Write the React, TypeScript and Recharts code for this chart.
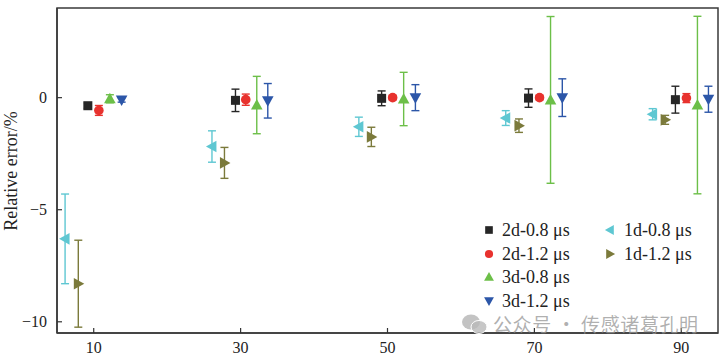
import React from "react";
import {
  ScatterChart,
  Scatter,
  XAxis,
  YAxis,
  ErrorBar,
  ReferenceArea,
} from "recharts";

// x positions (dodged around 10/30/50/70/90), y values and error half-widths
const x2d08 = [9.2, 29.3, 49.2, 69.2, 89.2];
const y2d08 = [-0.36, -0.12, -0.03, -0.02, -0.09];
const e2d08 = [0.12, 0.5, 0.33, 0.41, 0.6];

const x2d12 = [10.7, 30.7, 50.7, 70.7, 90.7];
const y2d12 = [-0.57, -0.09, 0.0, 0.0, -0.02];
const e2d12 = [0.22, 0.25, 0.1, 0.1, 0.2];

const x3d08 = [12.2, 32.2, 52.2, 72.2, 92.2];
const y3d08 = [-0.05, -0.33, -0.06, -0.1, -0.33];
const e3d08 = [0.18, 1.28, 1.19, 3.72, 3.96];

const x3d12 = [13.8, 33.7, 53.8, 73.8, 93.7];
const y3d12 = [-0.1, -0.14, 0.0, 0.0, -0.07];
const e3d12 = [0.1, 0.77, 0.58, 0.84, 0.58];

const x1d08 = [6.1, 26.1, 46.1, 66.1, 86.1];
const y1d08 = [-6.3, -2.18, -1.3, -0.91, -0.74];
const e1d08 = [2.0, 0.7, 0.43, 0.33, 0.25];

const x1d12 = [7.9, 27.8, 47.8, 67.9, 87.8];
const y1d12 = [-8.3, -2.91, -1.75, -1.25, -0.99];
const e1d12 = [1.94, 0.69, 0.43, 0.3, 0.2];

const xTicks = [10, 30, 50, 70, 90];
const yTicks = [0, -5, -10];

const FONT = "'Liberation Serif', 'Times New Roman', serif";

type Kind = "square" | "circle" | "up" | "down" | "left" | "right";

const build = (xs: number[], ys: number[], es: number[]) =>
  xs.map((x, i) => ({ x, y: ys[i], err: es[i] }));

const series: { name: string; kind: Kind; color: string; data: any[] }[] = [
  { name: "2d-0.8 μs", kind: "square", color: "#262626", data: build(x2d08, y2d08, e2d08) },
  { name: "2d-1.2 μs", kind: "circle", color: "#e8322e", data: build(x2d12, y2d12, e2d12) },
  { name: "3d-0.8 μs", kind: "up", color: "#6cbf48", data: build(x3d08, y3d08, e3d08) },
  { name: "3d-1.2 μs", kind: "down", color: "#2c56a8", data: build(x3d12, y3d12, e3d12) },
  { name: "1d-0.8 μs", kind: "left", color: "#5ec7d2", data: build(x1d08, y1d08, e1d08) },
  { name: "1d-1.2 μs", kind: "right", color: "#7b7a3b", data: build(x1d12, y1d12, e1d12) },
];

function drawMarker(kind: Kind, cx: number, cy: number, color: string, k = 1) {
  switch (kind) {
    case "square":
      return <rect x={cx - 4.5 * k} y={cy - 4.5 * k} width={9 * k} height={9 * k} fill={color} />;
    case "circle":
      return <circle cx={cx} cy={cy} r={4.8 * k} fill={color} />;
    case "up":
      return (
        <polygon
          points={`${cx},${cy - 6 * k} ${cx + 5.8 * k},${cy + 4.5 * k} ${cx - 5.8 * k},${cy + 4.5 * k}`}
          fill={color}
        />
      );
    case "down":
      return (
        <polygon
          points={`${cx},${cy + 6 * k} ${cx + 5.8 * k},${cy - 4.5 * k} ${cx - 5.8 * k},${cy - 4.5 * k}`}
          fill={color}
        />
      );
    case "left":
      return (
        <polygon
          points={`${cx - 6 * k},${cy} ${cx + 4.5 * k},${cy - 5.8 * k} ${cx + 4.5 * k},${cy + 5.8 * k}`}
          fill={color}
        />
      );
    case "right":
      return (
        <polygon
          points={`${cx + 6 * k},${cy} ${cx - 4.5 * k},${cy - 5.8 * k} ${cx - 4.5 * k},${cy + 5.8 * k}`}
          fill={color}
        />
      );
  }
}

const shapeFor = (kind: Kind, color: string) => (props: any) =>
  drawMarker(kind, props.cx, props.cy, color);

const XTick = ({ x, y, payload }: any) => (
  <g>
    <line x1={x} x2={x} y1={y} y2={y - 5} stroke="#333" strokeWidth={1.2} />
    <text x={x} y={y + 20} textAnchor="middle" fontSize={16} fontFamily={FONT} fill="#222">
      {payload.value}
    </text>
  </g>
);

const YTick = ({ x, y, payload }: any) => {
  const v = payload.value;
  const label = v < 0 ? `\u2212${Math.abs(v)}` : `${v}`;
  return (
    <g>
      <line x1={x} x2={x + 5} y1={y} y2={y} stroke="#333" strokeWidth={1.2} />
      <text x={x - 10} y={y + 5.5} textAnchor="end" fontSize={16} fontFamily={FONT} fill="#222">
        {label}
      </text>
    </g>
  );
};

const LegendBox = () => {
  const rows = [12, 36, 59, 83];
  const col1 = series.slice(0, 4);
  const col2 = series.slice(4);
  return (
    <svg
      width={240}
      height={100}
      style={{ position: "absolute", left: 480, top: 218, overflow: "visible", pointerEvents: "none" }}
    >
      {col1.map((s, i) => (
        <g key={s.name}>
          {drawMarker(s.kind, 9, rows[i], s.color, 0.85)}
          <text x={22} y={rows[i] + 6} fontSize={18} fontFamily={FONT} fill="#222">
            {s.name}
          </text>
        </g>
      ))}
      {col2.map((s, i) => (
        <g key={s.name}>
          {drawMarker(s.kind, 130, rows[i], s.color, 0.85)}
          <text x={144} y={rows[i] + 6} fontSize={18} fontFamily={FONT} fill="#222">
            {s.name}
          </text>
        </g>
      ))}
    </svg>
  );
};

export default function App() {
  return (
    <div style={{ position: "absolute", left: 0, top: 0, width: 722, height: 359, background: "#fff" }}>
      <ScatterChart width={722} height={359} margin={{ top: 8, right: 4, bottom: 0, left: 0 }}>
        <XAxis
          type="number"
          dataKey="x"
          domain={[5, 95]}
          ticks={xTicks}
          allowDataOverflow
          height={26}
          tickSize={0}
          tickMargin={0}
          tickLine={false}
          tick={<XTick />}
          axisLine={{ stroke: "#3a3a3a", strokeWidth: 1.5 }}
        />
        <YAxis
          type="number"
          dataKey="y"
          domain={[-10.5, 4]}
          ticks={yTicks}
          allowDataOverflow
          width={57}
          tickSize={0}
          tickMargin={0}
          tickLine={false}
          tick={<YTick />}
          axisLine={{ stroke: "#3a3a3a", strokeWidth: 1.5 }}
        />
        <ReferenceArea x1={5} x2={95} y1={-10.5} y2={4} fill="none" stroke="#3a3a3a" strokeWidth={1.5} />
        {series.map((s) => (
          <Scatter
            key={s.name}
            name={s.name}
            data={s.data}
            fill={s.color}
            shape={shapeFor(s.kind, s.color)}
            isAnimationActive={false}
          >
            <ErrorBar dataKey="err" direction="y" width={4} stroke={s.color} strokeWidth={1.4} />
          </Scatter>
        ))}
      </ScatterChart>
      <LegendBox />
      <svg
        width={30}
        height={359}
        style={{ position: "absolute", left: 0, top: 0, pointerEvents: "none" }}
      >
        <text
          transform="translate(17,171) rotate(-90)"
          textAnchor="middle"
          fontSize={18}
          fontFamily={FONT}
          fill="#222"
        >
          Relative error/%
        </text>
      </svg>
      <div
        style={{
          position: "absolute",
          left: 461,
          top: 313,
          height: 22,
          lineHeight: "22px",
          display: "flex",
          alignItems: "center",
          color: "rgba(150,150,150,0.75)",
          fontFamily: "'Noto Sans CJK SC', sans-serif",
          fontSize: 19,
          letterSpacing: 0.6,
          whiteSpace: "nowrap",
          pointerEvents: "none",
        }}
      >
        <svg width={28} height={22} style={{ marginRight: 4 }}>
          <ellipse cx={10} cy={9} rx={9} ry={7.5} fill="rgba(170,170,170,0.7)" />
          <ellipse cx={18} cy={14} rx={8} ry={6.5} fill="rgba(185,185,185,0.8)" stroke="#fff" strokeWidth={1} />
        </svg>
        <span>公众号 · 传感诸葛孔明</span>
      </div>
    </div>
  );
}
